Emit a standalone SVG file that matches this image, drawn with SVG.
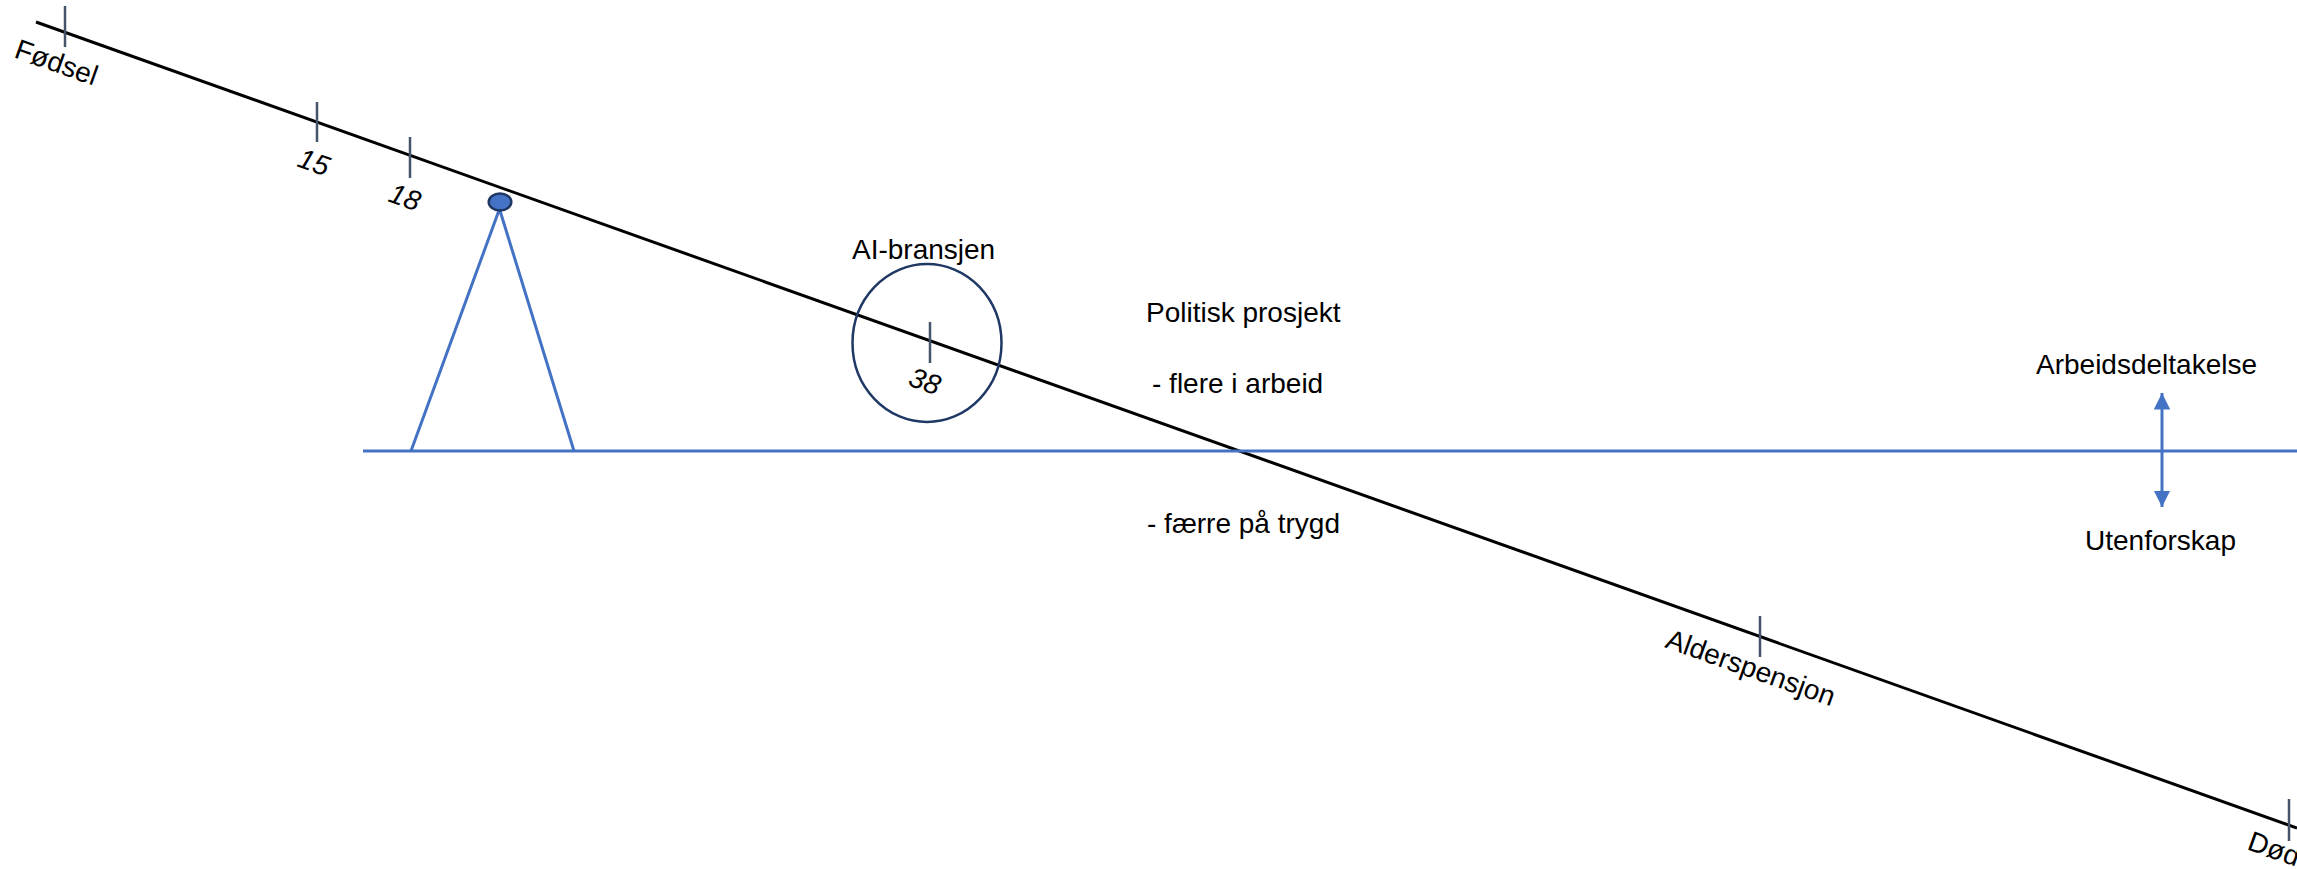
<svg xmlns="http://www.w3.org/2000/svg" width="2297" height="869" viewBox="0 0 2297 869">
  <defs>
    <style>
      .lbl { font-family: "Liberation Sans", Arial, sans-serif; font-size: 28px; fill: #000; }
      .num { font-family: "Liberation Sans", Arial, sans-serif; font-size: 28px; font-style: italic; fill: #000; }
      .tick { stroke: #44546A; stroke-width: 2.5; fill: none; }
      .blue { stroke: #4472C4; stroke-width: 3; fill: none; }
      .life { stroke: #000; stroke-width: 3; fill: none; }
    </style>
    <marker id="ah" viewBox="0 0 10 10" refX="10" refY="5" markerWidth="5.5" markerHeight="5.5" markerUnits="strokeWidth" orient="auto-start-reverse">
      <path d="M0,0 L10,5 L0,10 Z" fill="#4472C4"/>
    </marker>
  </defs>
  <rect width="2297" height="869" fill="#fff"/>

  <g id="connectors">
    <line id="lifeline" class="life" x1="36" y1="22" x2="2297" y2="828"/>
    <line id="baseline" class="blue" x1="363" y1="451" x2="2297" y2="451"/>
    <polyline id="stand" class="blue" points="411,451 499.5,209 574,451"/>
    <line id="updown" class="blue" x1="2162" y1="393" x2="2162" y2="507" marker-start="url(#ah)" marker-end="url(#ah)"/>
  </g>

  <g id="fodsel">
    <line class="tick" x1="65" y1="6" x2="65" y2="47"/>
    <text class="lbl" transform="translate(13,57) rotate(19.6)">Fødsel</text>
  </g>
  <g id="age15">
    <line class="tick" x1="317" y1="102" x2="317" y2="142"/>
    <text class="num" transform="translate(296,166) rotate(19.6)">15</text>
  </g>
  <g id="age18">
    <line class="tick" x1="410" y1="137" x2="410" y2="178"/>
    <text class="num" transform="translate(387,201) rotate(19.6)">18</text>
  </g>
  <g id="dot">
    <ellipse cx="500" cy="202" rx="11.3" ry="8.5" fill="#4472C4" stroke="#1F3864" stroke-width="2.5"/>
  </g>
  <g id="ai-bransjen">
    <ellipse cx="927" cy="343" rx="74.5" ry="79" fill="none" stroke="#1F3864" stroke-width="2.5"/>
    <line class="tick" x1="930" y1="322" x2="930" y2="363"/>
    <text class="num" transform="translate(907,385) rotate(19.6)">38</text>
    <text class="lbl" x="852" y="259">AI-bransjen</text>
  </g>
  <g id="politisk">
    <text class="lbl" x="1146" y="322">Politisk prosjekt</text>
    <text class="lbl" x="1152" y="393">- flere i arbeid</text>
    <text class="lbl" x="1147" y="533">- færre på trygd</text>
  </g>
  <g id="alderspensjon">
    <line class="tick" x1="1760" y1="616" x2="1760" y2="657"/>
    <text class="lbl" transform="translate(1664,647) rotate(19.6)">Alderspensjon</text>
  </g>
  <g id="dod">
    <line class="tick" x1="2289" y1="799" x2="2289" y2="841"/>
    <text class="lbl" transform="translate(2246,849) rotate(19.6)">Død</text>
  </g>
  <g id="arbeidsdeltakelse">
    <text class="lbl" x="2036" y="374">Arbeidsdeltakelse</text>
  </g>
  <g id="utenforskap">
    <text class="lbl" x="2085" y="550">Utenforskap</text>
  </g>
</svg>
